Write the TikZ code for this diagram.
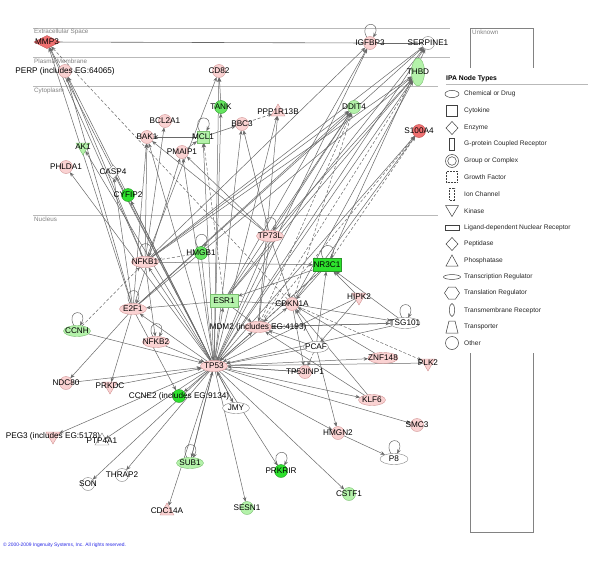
\documentclass[tikz,border=0pt]{standalone}
\usepackage{fontspec}
\setmainfont{Liberation Sans}
\usetikzlibrary{shapes.geometric,arrows.meta}
\pgfdeclarelayer{back}
\pgfdeclarelayer{bg}
\pgfsetlayers{back,bg,main}
\definecolor{pinkF}{RGB}{250,210,210}
\definecolor{pinkD}{RGB}{210,150,150}
\definecolor{redF}{RGB}{240,112,112}
\definecolor{redD}{RGB}{190,80,80}
\definecolor{lgrF}{RGB}{180,242,170}
\definecolor{lgrD}{RGB}{120,190,110}
\definecolor{bgrF}{RGB}{45,225,45}
\definecolor{mgrF}{RGB}{100,228,95}
\definecolor{grD}{RGB}{40,150,40}
\definecolor{edgeC}{RGB}{105,105,105}
\definecolor{sepC}{RGB}{185,185,185}
\definecolor{regC}{RGB}{130,130,130}
\definecolor{cpyC}{RGB}{40,40,230}
\tikzset{
  base/.style={inner sep=0pt, outer sep=0pt, line width=0.4pt},
  circ/.style={base, circle, minimum size=13pt},
  ell/.style={base, ellipse, minimum width=27pt, minimum height=11pt},
  vell/.style={base, ellipse, minimum width=13pt, minimum height=28pt},
  rectn/.style={base, rectangle, minimum width=28pt, minimum height=13pt},
  sqr/.style={base, rectangle, minimum width=12pt, minimum height=12pt},
  dtri/.style={base, regular polygon, regular polygon sides=3, shape border rotate=180, minimum size=16pt},
  utri/.style={base, regular polygon, regular polygon sides=3, minimum size=16pt},
  diam/.style={base, diamond, minimum width=26pt, minimum height=13pt},
  sdiam/.style={base, diamond, minimum width=13pt, minimum height=14pt},
  pk/.style={fill=pinkF, draw=pinkD},
  rd/.style={fill=redF, draw=redD},
  lg/.style={fill=lgrF, draw=lgrD},
  bg/.style={fill=bgrF, draw=grD},
  mg/.style={fill=mgrF, draw=grD},
  wh/.style={fill=white, draw=regC},
  lbl/.style={font=\fontsize{8.2}{9}\selectfont, text=black, inner sep=0pt},
  edge/.style={draw=edgeC, line width=0.5pt, -{Stealth[length=4.5pt,width=3.6pt]}},
  dedge/.style={edge, dash pattern=on 3pt off 2pt},
  regtxt/.style={font=\fontsize{6.3}{7}\selectfont, text=regC, anchor=north west, inner sep=0pt},
  legtxt/.style={font=\fontsize{6.6}{7}\selectfont, text=black!85, anchor=west, inner sep=0pt},
  legicon/.style={draw=black!75, line width=0.5pt},
}
\newcommand\selfloop[1]{\draw[edge] (#1.120) .. controls +(-9,-17) and +(9,-17) .. (#1.60);}
\begin{document}
\begin{tikzpicture}[x=1pt,y=-1pt]
\useasboundingbox (0,0) rectangle (600,565);

% ---------- nodes ----------
\node[diam,rd,label={[lbl]center:MMP3}] (MMP3) at (47,42) {};
\node[circ,pk,label={[lbl]center:IGFBP3}] (IGFBP3) at (370,43) {};
\node[circ,wh,label={[lbl]center:SERPINE1}] (SERPINE1) at (428,43) {};
\node[vell,lg,label={[lbl]center:THBD}] (THBD) at (418,72) {};
\node[circ,pk,label={[lbl]center:PERP (includes EG:64065)}] (PERP) at (65,71) {};
\node[circ,pk,label={[lbl]center:CD82}] (CD82) at (219,71) {};
\node[circ,mg,label={[lbl]center:TANK}] (TANK) at (221,107) {};
\node[utri,pk,label={[lbl]center:PPP1R13B}] (PPP1R13B) at (278,112) {};
\node[circ,pk,label={[lbl]center:BCL2A1}] (BCL2A1) at (165,121) {};
\node[circ,pk,label={[lbl]center:BBC3}] (BBC3) at (242,124) {};
\node[sqr,lg,label={[lbl]center:MCL1}] (MCL1) at (203,137) {};
\node[circ,pk,label={[lbl]center:BAK1}] (BAK1) at (147,137) {};
\node[circ,pk,label={[lbl]center:PMAIP1}] (PMAIP1) at (182,152) {};
\node[dtri,lg,label={[lbl]center:AK1}] (AK1) at (83,147) {};
\node[circ,pk,label={[lbl]center:PHLDA1}] (PHLDA1) at (66,167) {};
\node[sdiam,wh,label={[lbl]center:CASP4}] (CASP4) at (113,172) {};
\node[circ,bg,label={[lbl]center:CYFIP2}] (CYFIP2) at (128,195) {};
\node[circ,lg,label={[lbl]center:DDIT4}] (DDIT4) at (354,107) {};
\node[circ,rd,label={[lbl]center:S100A4}] (S100A4) at (419,131) {};
\node[ell,pk,label={[lbl]center:TP73L}] (TP73L) at (270,236) {};
\node[circ,mg,label={[lbl]center:HMGB1}] (HMGB1) at (201,253) {};
\node[ell,pk,label={[lbl]center:NFKB1}] (NFKB1) at (145,262) {};
\node[rectn,bg,label={[lbl]center:NR3C1}] (NR3C1) at (327,265) {};
\node[rectn,lg,label={[lbl]center:ESR1}] (ESR1) at (224,301) {};
\node[ell,pk,label={[lbl]center:E2F1}] (E2F1) at (133,309) {};
\node[circ,pk,label={[lbl]center:CDKN1A}] (CDKN1A) at (292,304) {};
\node[dtri,pk,label={[lbl]center:HIPK2}] (HIPK2) at (359,297) {};
\node[ell,wh,minimum width=30pt,label={[lbl]center:TSG101}] (TSG101) at (405,323) {};
\node[ell,pk,label={[lbl]center:MDM2 (includes EG:4193)}] (MDM2) at (258,327) {};
\node[ell,lg,label={[lbl]center:CCNH}] (CCNH) at (77,331) {};
\node[ell,pk,label={[lbl]center:NFKB2}] (NFKB2) at (156,342) {};
\node[ell,wh,minimum width=25pt,label={[lbl]center:PCAF}] (PCAF) at (316,347) {};
\node[ell,pk,minimum width=30pt,label={[lbl]center:ZNF148}] (ZNF148) at (383,358) {};
\node[dtri,pk,label={[lbl]center:PLK2}] (PLK2) at (428,363) {};
\node[ell,pk,label={[lbl]center:TP53}] (TP53) at (214,366) {};
\node[circ,pk,label={[lbl]center:TP53INP1}] (TP53INP1) at (305,372) {};
\node[circ,pk,label={[lbl]center:NDC80}] (NDC80) at (66,383) {};
\node[dtri,pk,label={[lbl]center:PRKDC}] (PRKDC) at (110,386) {};
\node[circ,bg,label={[lbl]center:CCNE2 (includes EG:9134)}] (CCNE2) at (179,396) {};
\node[ell,wh,label={[lbl]center:JMY}] (JMY) at (236,408) {};
\node[ell,pk,label={[lbl]center:KLF6}] (KLF6) at (372,400) {};
\node[circ,pk,label={[lbl]center:SMC3}] (SMC3) at (417,425) {};
\node[circ,pk,label={[lbl]center:HMGN2}] (HMGN2) at (338,433) {};
\node[ell,wh,minimum width=28pt,label={[lbl]center:P8}] (P8) at (394,459) {};
\node[dtri,pk,label={[lbl]center:PEG3 (includes EG:5178)}] (PEG3) at (53,436) {};
\node[utri,wh,label={[lbl]center:PTP4A1}] (PTP4A1) at (102,441) {};
\node[ell,lg,label={[lbl]center:SUB1}] (SUB1) at (190,463) {};
\node[circ,bg,label={[lbl]center:PRKRIR}] (PRKRIR) at (281,471) {};
\node[circ,wh,label={[lbl]center:THRAP2}] (THRAP2) at (122,475) {};
\node[circ,wh,label={[lbl]center:SON}] (SON) at (88,484) {};
\node[circ,lg,label={[lbl]center:CSTF1}] (CSTF1) at (349,494) {};
\node[circ,lg,label={[lbl]center:SESN1}] (SESN1) at (247,508) {};
\node[utri,pk,label={[lbl]center:CDC14A}] (CDC14A) at (167,511) {};

% ---------- background, compartments and unknown box ----------
\begin{pgfonlayer}{back}
  \fill[white] (0,0) rectangle (600,565);
  \draw[sepC, line width=0.6pt] (33,28) -- (450,28);
  \draw[sepC, line width=0.6pt] (33,57) -- (450,57);
  \draw[sepC, line width=0.6pt] (33,86) -- (450,86);
  \draw[sepC, line width=0.6pt] (33,215) -- (450,215);
  \draw[regC, line width=0.5pt] (470,28) rectangle (533,532);
\end{pgfonlayer}
\node[regtxt] (tES) at (34,29) {Extracellular Space};
\node[regtxt] (tPM) at (34,59) {Plasma Membrane};
\node[regtxt] (tCY) at (34,88) {Cytoplasm};
\node[regtxt] (tNU) at (34,217) {Nucleus};
\node[regtxt] (tUN) at (472,30) {Unknown};

% ---------- edges ----------
\begin{pgfonlayer}{bg}
  \draw[draw=edgeC, line width=0.6pt] (MMP3) -- (IGFBP3);
  \draw[draw=edgeC, line width=0.5pt] (IGFBP3) -- (SERPINE1);
  \foreach \t in {PEG3,PTP4A1,SON,THRAP2,SUB1,CDC14A,SESN1,PRKRIR,CSTF1,HMGN2,SMC3,KLF6,ZNF148,PLK2,TP53INP1,CCNE2,JMY,PHLDA1,AK1,CASP4,CYFIP2,BAK1,PMAIP1,MCL1,BBC3,PPP1R13B,CD82,TANK,DDIT4,IGFBP3,SERPINE1,THBD,S100A4,MMP3,PERP,MDM2,CDKN1A,ESR1,NFKB1,E2F1}{
    \draw[edge] (TP53) -- (\t);}
  \foreach \s in {NDC80,PRKDC,CCNH,NFKB2,HMGB1,TP73L,NR3C1,HIPK2,TSG101,PCAF,TP53INP1,JMY,SUB1}{
    \draw[edge] (\s) -- (TP53);}
  \foreach \a/\b in {NFKB1/MMP3,E2F1/MMP3,NFKB1/PERP,E2F1/PERP,NFKB1/CD82,NFKB1/IGFBP3,ESR1/IGFBP3,NFKB1/SERPINE1,E2F1/SERPINE1,ESR1/SERPINE1,NR3C1/SERPINE1,NFKB1/THBD,E2F1/THBD,ESR1/THBD,CDKN1A/THBD,TP73L/THBD,ESR1/DDIT4,NFKB1/DDIT4,TP73L/DDIT4,E2F1/DDIT4,CDKN1A/S100A4,NFKB1/BCL2A1,E2F1/BAK1,NFKB1/BAK1,E2F1/PMAIP1,TP73L/PMAIP1,TP73L/BBC3,E2F1/CASP4,TP73L/BAK1,MDM2/PPP1R13B}{
    \draw[edge] (\a) -- (\b);}
  \foreach \a/\b in {CDKN1A/MMP3,MDM2/THBD,CDKN1A/DDIT4,MDM2/DDIT4,MDM2/S100A4,NR3C1/S100A4,BBC3/PPP1R13B,CCNH/NFKB1,CDKN1A/PLK2,PCAF/TP53INP1,NR3C1/MDM2,HMGB1/NFKB1,ESR1/MCL1}{
    \draw[dedge] (\a) -- (\b);}
  \foreach \a/\b in {MCL1/BBC3,MCL1/BAK1,PMAIP1/MCL1,TANK/CD82}{
    \draw[edge] (\a) -- (\b);}
  \foreach \a/\b in {NFKB1/NR3C1,ESR1/E2F1,E2F1/NDC80,E2F1/PRKDC,E2F1/CCNE2,NFKB1/NFKB2,TP73L/MDM2,TP73L/CDKN1A,ESR1/CDKN1A,ESR1/MDM2,NR3C1/CDKN1A,NR3C1/ESR1,HIPK2/NR3C1,TSG101/MDM2,TSG101/NR3C1,CDKN1A/TSG101,PCAF/CDKN1A,PCAF/MDM2,PCAF/HMGN2,PCAF/NR3C1,ZNF148/CDKN1A,KLF6/CDKN1A,KLF6/MDM2,HMGN2/P8,CDKN1A/TP53INP1,MDM2/TSG101,HIPK2/PCAF}{
    \draw[edge] (\a) -- (\b);}
  \foreach \n in {IGFBP3,MCL1,TP73L,HMGB1,NFKB1,NR3C1,E2F1,CCNH,NFKB2,TSG101,P8,SUB1,PRKRIR}{
    \selfloop{\n}}
\end{pgfonlayer}

% ---------- legend ----------
\fill[white] (438,68) rectangle (596,353);
\node[font=\fontsize{6.8}{8}\bfseries, anchor=west, inner sep=0pt] (legT) at (446,79) {IPA Node Types};
\draw[sepC, line width=0.5pt] (446,84) -- (588,84);
\draw[legicon] (452,94) ellipse (7 and 3.6);
\draw[legicon] (446.5,105.5) rectangle (457.5,116.5);
\draw[legicon] (452,121.5) -- (458,128) -- (452,134.5) -- (446,128) -- cycle;
\draw[legicon] (449.5,138) rectangle (454.5,150);
\draw[legicon] (452,161) circle (6.5);
\draw[legicon] (452,161) circle (4.3);
\draw[legicon, densely dotted] (446.5,171.5) rectangle (457.5,182.5);
\draw[legicon, densely dotted] (449.5,188) rectangle (454.5,200);
\draw[legicon] (445.5,205.5) -- (458.5,205.5) -- (452,216.5) -- cycle;
\draw[legicon] (445,225.5) rectangle (459,230.5);
\draw[legicon] (452,237.5) -- (458,244) -- (452,250.5) -- (446,244) -- cycle;
\draw[legicon] (446,266) -- (458,266) -- (452,255) -- cycle;
\draw[legicon] (452,277) ellipse (8.5 and 2.4);
\draw[legicon] (444.5,293) -- (448.5,287) -- (455.5,287) -- (459.5,293) -- (455.5,299) -- (448.5,299) -- cycle;
\draw[legicon] (452,310) ellipse (2.6 and 6.5);
\draw[legicon] (446,333) -- (458,333) -- (455,321) -- (449,321) -- cycle;
\draw[legicon] (452,343) circle (6.5);
\node[legtxt] (g1) at (464,94) {Chemical or Drug};
\node[legtxt] (g2) at (464,111) {Cytokine};
\node[legtxt] (g3) at (464,128) {Enzyme};
\node[legtxt] (g4) at (464,144) {G-protein Coupled Receptor};
\node[legtxt] (g5) at (464,161) {Group or Complex};
\node[legtxt] (g6) at (464,177) {Growth Factor};
\node[legtxt] (g7) at (464,194) {Ion Channel};
\node[legtxt] (g8) at (464,211) {Kinase};
\node[legtxt] (g9) at (464,228) {Ligand-dependent Nuclear Receptor};
\node[legtxt] (g10) at (464,244) {Peptidase};
\node[legtxt] (g11) at (464,261) {Phosphatase};
\node[legtxt] (g12) at (464,277) {Transcription Regulator};
\node[legtxt] (g13) at (464,293) {Translation Regulator};
\node[legtxt] (g14) at (464,311) {Transmembrane Receptor};
\node[legtxt] (g15) at (464,327) {Transporter};
\node[legtxt] (g16) at (464,343) {Other};

\node[font=\fontsize{4.9}{6}\selectfont, text=cpyC, anchor=west, inner sep=0pt] (cpy) at (3,545) {\textcopyright{} 2000-2009 Ingenuity Systems, Inc. All rights reserved.};
\end{tikzpicture}
\end{document}
